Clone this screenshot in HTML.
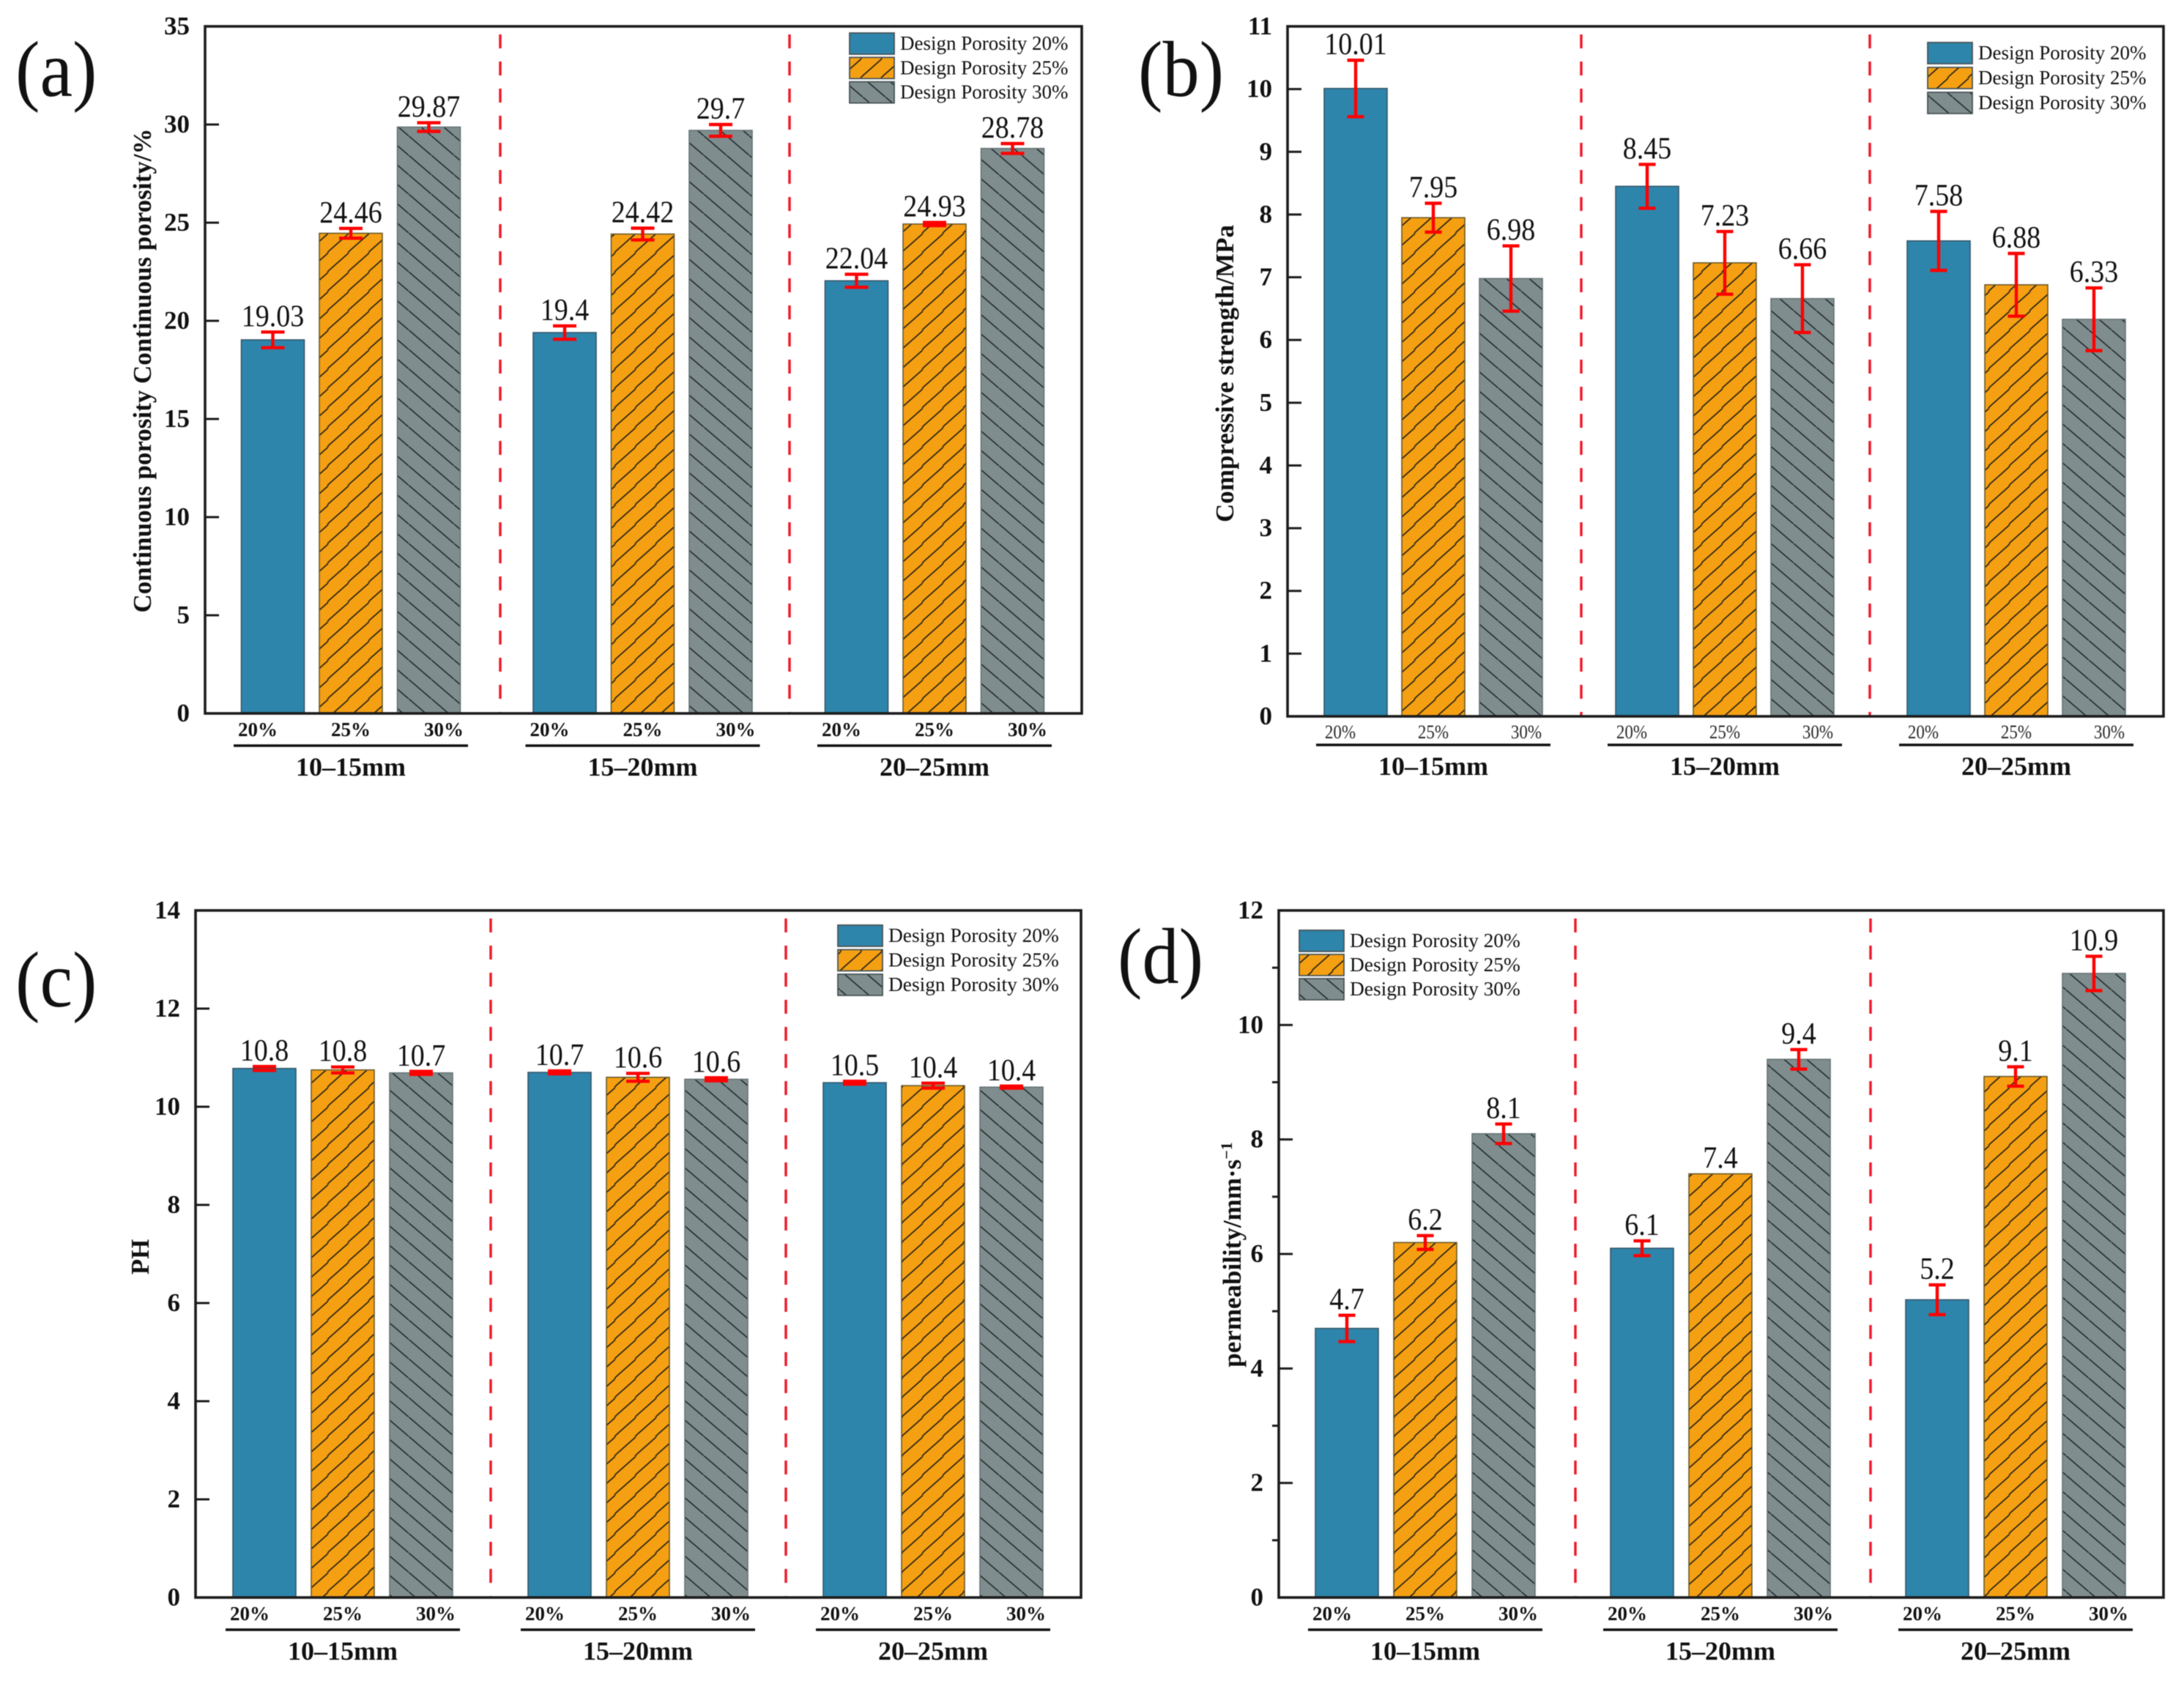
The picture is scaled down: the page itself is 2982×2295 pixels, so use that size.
<!DOCTYPE html>
<html lang="en">
<head>
<meta charset="utf-8">
<title>Porosity, strength, pH and permeability bar charts</title>
<style>
html,body{margin:0;padding:0;background:#fff;}
svg{display:block;font-family:"Liberation Serif",serif;filter:blur(0.5px);}
text{fill:#111;}
</style>
</head>
<body>
<svg id="figure" xmlns="http://www.w3.org/2000/svg" width="2982" height="2295" viewBox="0 0 2982 2295">
<defs>
<pattern id="hatch-orange" patternUnits="userSpaceOnUse" width="28" height="26.5"><rect width="28" height="26.5" fill="#f5a013"/><path d="M-2.8 28.15L30.8 -1.65" stroke="#2b2414" stroke-width="1.7"/><path d="M-2.8 2.65L2.8 -2.65M25.2 28.15L30.8 23.85" stroke="#2b2414" stroke-width="1.7"/></pattern>
<pattern id="hatch-gray" patternUnits="userSpaceOnUse" width="31" height="26.5"><rect width="31" height="26.5" fill="#7f8d8e"/><path d="M-3.1 -2.65L34.1 29.15" stroke="#20282a" stroke-width="1.6"/></pattern>
</defs>
<rect width="2982" height="2295" fill="#fff"/>
<g id="panel-a"></g>
<g id="panel-b"></g>
<g id="panel-c"></g>
<g id="panel-d"></g>
</svg>
<script>
// ---- shared categories ----
var sizeGroups = ['10–15mm', '15–20mm', '20–25mm'];
var porosityTicks = ['20%', '25%', '30%'];
var legendLabels = ['Design Porosity 20%', 'Design Porosity 25%', 'Design Porosity 30%'];

// ---- panel (a) continuous porosity ----
var a20 = [19.03, 19.4, 22.04];
var a25 = [24.46, 24.42, 24.93];
var a30 = [29.87, 29.7, 28.78];
var aErr20 = [0.4, 0.34, 0.33];
var aErr25 = [0.25, 0.3, 0.08];
var aErr30 = [0.22, 0.3, 0.25];
var aTicks = [0, 5, 10, 15, 20, 25, 30, 35];

// ---- panel (b) compressive strength ----
var b20 = [10.01, 8.45, 7.58];
var b25 = [7.95, 7.23, 6.88];
var b30 = [6.98, 6.66, 6.33];
var bErr20 = [0.45, 0.35, 0.47];
var bErr25 = [0.23, 0.5, 0.5];
var bErr30 = [0.52, 0.54, 0.5];
var bTicks = [0, 1, 2, 3, 4, 5, 6, 7, 8, 9, 10, 11];

// ---- panel (c) PH ----
var c20 = [10.78, 10.7, 10.49];
var c25 = [10.75, 10.6, 10.43];
var c30 = [10.69, 10.56, 10.4];
var cErr20 = [0.04, 0.03, 0.03];
var cErr25 = [0.06, 0.08, 0.05];
var cErr30 = [0.03, 0.03, 0.02];
var cTicks = [0, 2, 4, 6, 8, 10, 12, 14];

// ---- panel (d) permeability ----
var d20 = [4.7, 6.1, 5.2];
var d25 = [6.2, 7.4, 9.1];
var d30 = [8.1, 9.4, 10.9];
var dErr20 = [0.23, 0.13, 0.26];
var dErr25 = [0.12, 0, 0.17];
var dErr30 = [0.17, 0.17, 0.3];
var dTicks = [0, 2, 4, 6, 8, 10, 12];
var dMinorTicks = [1, 3, 5, 7, 9, 11];

var NS = 'http://www.w3.org/2000/svg';
var seriesFill = ['#2e85ab', 'url(#hatch-orange)', 'url(#hatch-gray)'];
var seriesStroke = ['#35566a', '#6b5a2a', '#667476'];
var RED = '#ff0000';
var DASH_RED = '#ee1c2b';

function mk(tag, attrs, parent, text) {
  var n = document.createElementNS(NS, tag);
  for (var k in attrs) n.setAttribute(k, attrs[k]);
  if (text !== undefined) n.textContent = text;
  parent.appendChild(n);
  return n;
}

function drawPanel(cfg) {
  var root = document.getElementById('panel-' + cfg.id);
  var yScale = function (v) {
    return cfg.bottom - (v / cfg.yMax) * (cfg.bottom - cfg.top);
  };
  var barX = function (g, s) {
    return cfg.firstBar + g * cfg.groupStep + s * cfg.barStep;
  };
  var BW = 86;
  var node;

  // panel letter
  node = mk('text', {'font-size': 108, transform: 'translate(' + cfg.letterX + ' ' + cfg.letterY + ') scale(0.93 1)'}, root, '(' + cfg.id + ')');
  
  

  // dashed separators
  cfg.dividers.forEach(function (x, i) {
    var d = mk('line', {x1: x, x2: x, y1: cfg.top + 11, y2: cfg.bottom, stroke: DASH_RED, 'stroke-width': 3.5, 'stroke-dasharray': '19 18'}, root);
    
    
  });

  // bars, error bars, value labels
  cfg.series.forEach(function (vals, s) {
    vals.forEach(function (v, g) {
      var x = barX(g, s);
      var yTop = yScale(v);
      var bar = mk('rect', {x: x, y: yTop, width: BW, height: cfg.bottom - yTop, fill: seriesFill[s], stroke: seriesStroke[s], 'stroke-width': 1.6}, root);
      
      

      var e = cfg.errors[s][g];
      var cx = x + BW / 2;
      var labelY = yTop - 8;
      if (e > 0) {
        var hi = yScale(v + e);
        var lo = yScale(v - e);
        var cap = cfg.capWidth / 2;
        var eb = mk('path', {d: 'M' + cx + ' ' + hi + 'V' + lo + 'M' + (cx - cap) + ' ' + hi + 'H' + (cx + cap) + 'M' + (cx - cap) + ' ' + lo + 'H' + (cx + cap), stroke: RED, 'stroke-width': 4.4, fill: 'none'}, root);
        
        
        labelY = hi - 8;
      }
      var printed = cfg.labelDigits === null ? String(v) : v.toFixed(cfg.labelDigits);
      var lab = mk('text', {'font-size': 38, 'text-anchor': 'middle', transform: 'translate(' + cx + ' ' + labelY + ') scale(1 1.1)'}, root, printed);
      
      
    });
  });

  // frame
  node = mk('rect', {x: cfg.left, y: cfg.top, width: cfg.right - cfg.left, height: cfg.bottom - cfg.top, fill: 'none', stroke: '#1c1c1c', 'stroke-width': 3.6}, root);
  
  

  // y ticks
  cfg.ticks.forEach(function (t) {
    var y = yScale(t);
    if (t !== 0 && t !== cfg.yMax) {
      var tk = mk('line', {x1: cfg.left, x2: cfg.left + 19, y1: y, y2: y, stroke: '#1c1c1c', 'stroke-width': 3}, root);
      
      
    }
    var tl = mk('text', {x: cfg.left - 21, y: y + 11, 'font-size': 35, 'font-weight': 'bold', 'text-anchor': 'end'}, root, String(t));
    
    
  });
  (cfg.minorTicks || []).forEach(function (t) {
    var y = yScale(t);
    var mt = mk('line', {x1: cfg.left - 9, x2: cfg.left, y1: y, y2: y, stroke: '#1c1c1c', 'stroke-width': 3}, root);
    
    
  });

  // y title
  var title = mk('text', {'font-size': 35, 'font-weight': 'bold', 'text-anchor': 'middle', transform: 'translate(' + cfg.titleX + ' ' + cfg.titleY + ') rotate(-90)'}, root, cfg.title);
  
  
  if (cfg.titleSup) {
    var sup = mk('tspan', {dy: -12, 'font-size': 22}, title, cfg.titleSup);
    
    
  }

  // x labels
  sizeGroups.forEach(function (name, g) {
    var mid = barX(g, 1) + BW / 2;
    porosityTicks.forEach(function (p, i) {
      var xl = mk('text', {'font-size': cfg.xFont, 'font-weight': cfg.xWeight, 'text-anchor': 'middle', fill: cfg.xColor, style: 'fill:' + cfg.xColor, transform: 'translate(' + (mid + (i - 1) * 127) + ' ' + (cfg.bottom + cfg.xLabelDy) + ') scale(1 ' + cfg.xScaleY + ')'}, root, p);
      
      
    });
    var ul = mk('line', {x1: mid - 160, x2: mid + 160, y1: cfg.bottom + cfg.underlineDy, y2: cfg.bottom + cfg.underlineDy, stroke: '#111', 'stroke-width': 3.6}, root);
    
    
    var gl = mk('text', {x: mid, y: cfg.bottom + cfg.groupDy, 'font-size': 36, 'font-weight': 'bold', 'text-anchor': 'middle'}, root, name);
    
    
  });

  // legend
  legendLabels.forEach(function (name, i) {
    var y = cfg.legendY + i * cfg.legendStep;
    var sw = mk('rect', {x: cfg.legendX, y: y, width: 61, height: 29, fill: seriesFill[i], stroke: '#4a5558', 'stroke-width': 1.8}, root);
    
    
    var lt = mk('text', {x: cfg.legendX + 69, y: y + 23, 'font-size': cfg.legendFont}, root, name);
    
    
  });
}

drawPanel({
  id: 'a', left: 280, right: 1477, top: 36, bottom: 974, yMax: 35,
  firstBar: 329.5, groupStep: 398.5, barStep: 106.5, capWidth: 32,
  dividers: [683, 1078], series: [a20, a25, a30], errors: [aErr20, aErr25, aErr30],
  ticks: aTicks, labelDigits: null,
  xFont: 27, xWeight: 'bold', xColor: '#111', xScaleY: 1, xLabelDy: 31, underlineDy: 44, groupDy: 85,
  title: 'Continuous porosity Continuous porosity/%', titleX: 206, titleY: 506,
  letterX: 21, letterY: 131, legendX: 1160, legendY: 45, legendStep: 33.3, legendFont: 27
});
drawPanel({
  id: 'b', left: 1758, right: 2954, top: 36, bottom: 978, yMax: 11,
  firstBar: 1808, groupStep: 398, barStep: 106, capWidth: 23,
  dividers: [2159, 2553], series: [b20, b25, b30], errors: [bErr20, bErr25, bErr30],
  ticks: bTicks, labelDigits: null,
  xFont: 23, xWeight: 'normal', xColor: '#2a2a2a', xScaleY: 1.15, xLabelDy: 30, underlineDy: 39, groupDy: 80,
  title: 'Compressive strength/MPa', titleX: 1684, titleY: 510,
  letterX: 1554, letterY: 131, legendX: 2632, legendY: 58, legendStep: 34, legendFont: 27
});
drawPanel({
  id: 'c', left: 267, right: 1476, top: 1243, bottom: 2181, yMax: 14,
  firstBar: 318, groupStep: 403, barStep: 107, capWidth: 32,
  dividers: [670, 1073], series: [c20, c25, c30], errors: [cErr20, cErr25, cErr30],
  ticks: cTicks, labelDigits: 1,
  xFont: 27, xWeight: 'bold', xColor: '#111', xScaleY: 1, xLabelDy: 31, underlineDy: 44, groupDy: 85,
  title: 'PH', titleX: 203, titleY: 1716,
  letterX: 21, letterY: 1374, legendX: 1144, legendY: 1263, legendStep: 33.5, legendFont: 27.4
});
drawPanel({
  id: 'd', left: 1746, right: 2954, top: 1243, bottom: 2181, yMax: 12,
  firstBar: 1796, groupStep: 403, barStep: 107, capWidth: 23,
  dividers: [2151, 2554], series: [d20, d25, d30], errors: [dErr20, dErr25, dErr30],
  ticks: dTicks, minorTicks: dMinorTicks, labelDigits: null,
  xFont: 27, xWeight: 'bold', xColor: '#111', xScaleY: 1, xLabelDy: 31, underlineDy: 44, groupDy: 85,
  title: 'permeability/mm·s', titleSup: '−1', titleX: 1694, titleY: 1713,
  letterX: 1526, letterY: 1342, legendX: 1774, legendY: 1270, legendStep: 33, legendFont: 27.4
});
</script>
</body>
</html>
